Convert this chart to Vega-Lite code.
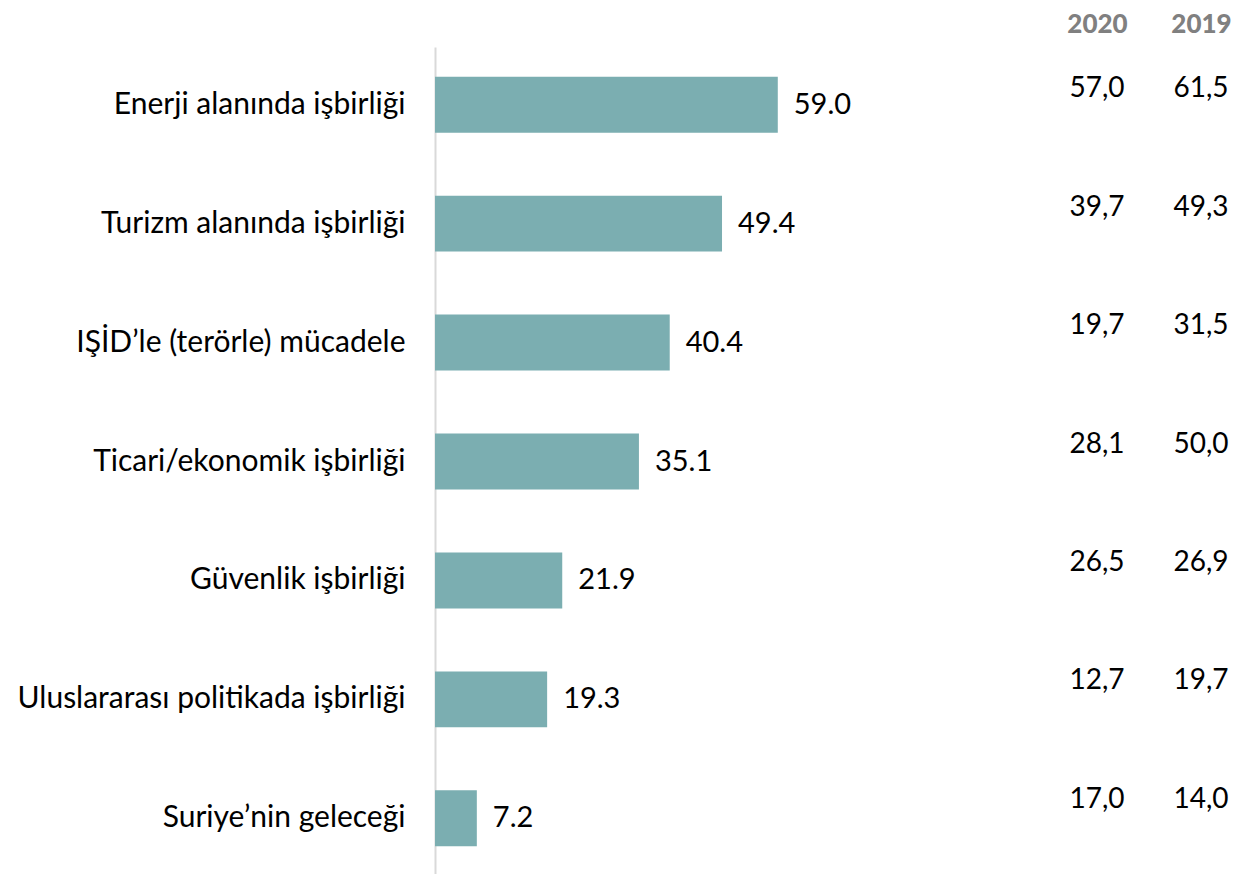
{
  "$schema": "https://vega.github.io/schema/vega-lite/v6.json",
  "background": "white",
  "padding": {"left": 0, "top": 11, "right": 0, "bottom": 0},
  "bounds": "flush",
  "spacing": 55,
  "config": {
    "view": {"stroke": null},
    "font": "Lato",
    "text": {"font": "Lato"}
  },
  "datasets": {
    "bars": [
      {"category": "Enerji alanında işbirliği", "value": 59.0},
      {"category": "Turizm alanında işbirliği", "value": 49.4},
      {"category": "IŞİD’le (terörle) mücadele", "value": 40.4},
      {"category": "Ticari/ekonomik işbirliği", "value": 35.1},
      {"category": "Güvenlik işbirliği", "value": 21.9},
      {"category": "Uluslararası politikada işbirliği", "value": 19.3},
      {"category": "Suriye’nin geleceği", "value": 7.2}
    ],
    "table": [
      {"category": "Enerji alanında işbirliği", "year": "2020", "label": "57,0"},
      {"category": "Enerji alanında işbirliği", "year": "2019", "label": "61,5"},
      {"category": "Turizm alanında işbirliği", "year": "2020", "label": "39,7"},
      {"category": "Turizm alanında işbirliği", "year": "2019", "label": "49,3"},
      {"category": "IŞİD’le (terörle) mücadele", "year": "2020", "label": "19,7"},
      {"category": "IŞİD’le (terörle) mücadele", "year": "2019", "label": "31,5"},
      {"category": "Ticari/ekonomik işbirliği", "year": "2020", "label": "28,1"},
      {"category": "Ticari/ekonomik işbirliği", "year": "2019", "label": "50,0"},
      {"category": "Güvenlik işbirliği", "year": "2020", "label": "26,5"},
      {"category": "Güvenlik işbirliği", "year": "2019", "label": "26,9"},
      {"category": "Uluslararası politikada işbirliği", "year": "2020", "label": "12,7"},
      {"category": "Uluslararası politikada işbirliği", "year": "2019", "label": "19,7"},
      {"category": "Suriye’nin geleceği", "year": "2020", "label": "17,0"},
      {"category": "Suriye’nin geleceği", "year": "2019", "label": "14,0"}
    ]
  },
  "hconcat": [
    {
      "width": 581,
      "height": 829,
      "data": {"name": "bars"},
      "encoding": {
        "y": {
          "field": "category",
          "type": "nominal",
          "sort": null,
          "scale": {"paddingInner": 0.53, "paddingOuter": 0.25},
          "axis": {
            "title": null,
            "ticks": false,
            "labelPadding": 30,
            "labelFontSize": 30,
            "labelColor": "#000000",
            "labelFont": "Lato",
            "labelLimit": 500,
            "domainColor": "#d9d9d9",
            "domainWidth": 2,
            "minExtent": 435,
            "maxExtent": 435
          }
        },
        "x": {
          "field": "value",
          "type": "quantitative",
          "scale": {"domain": [0, 100]},
          "axis": null
        }
      },
      "layer": [
        {"mark": {"type": "bar", "color": "#7BAEB1"}},
        {
          "mark": {"type": "text", "align": "left", "baseline": "middle", "dx": 16, "fontSize": 29, "color": "#000000"},
          "encoding": {"text": {"field": "value", "type": "quantitative", "format": ".1f"}}
        }
      ]
    },
    {
      "width": 156,
      "height": 829,
      "data": {"name": "table"},
      "mark": {"type": "text", "align": "center", "baseline": "middle", "dy": -17, "fontSize": 28, "color": "#000000"},
      "encoding": {
        "y": {
          "field": "category",
          "type": "nominal",
          "sort": null,
          "scale": {"paddingInner": 0.53, "paddingOuter": 0.25},
          "axis": null
        },
        "x": {
          "field": "year",
          "type": "ordinal",
          "sort": ["2020", "2019"],
          "scale": {"type": "point", "padding": 0.25},
          "axis": {
            "orient": "top",
            "title": null,
            "ticks": false,
            "tickSize": 0,
            "domain": false,
            "labelPadding": 23,
            "labelBaseline": "middle",
            "labelFontSize": 26,
            "labelFontWeight": 900,
            "labelColor": "#808080",
            "labelFont": "Lato",
            "labelAngle": 0,
            "labelDx": 6
          }
        },
        "text": {"field": "label", "type": "nominal"}
      }
    }
  ]
}
